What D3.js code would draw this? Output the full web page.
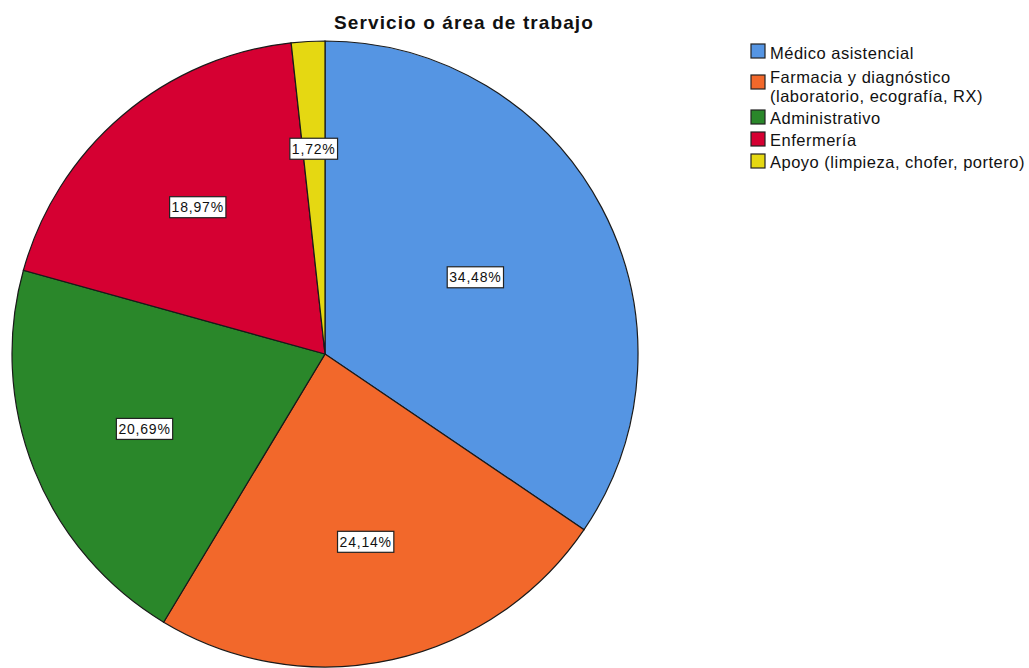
<!DOCTYPE html>
<html>
<head>
<meta charset="utf-8">
<script src="https://cdn.jsdelivr.net/npm/d3@7"></script>
<style>
  body { margin: 0; background: #fff; }
  text { font-family: "Liberation Sans", Arial, sans-serif; }
</style>
</head>
<body>
<div id="chart"></div>
<script>
const categories = [
  "Médico asistencial",
  "Farmacia y diagnóstico\n(laboratorio, ecografía, RX)",
  "Administrativo",
  "Enfermería",
  "Apoyo (limpieza, chofer, portero)"
];
const counts = [20, 14, 12, 11, 1];
const colors = ["#5595e3", "#f2682b", "#2a872a", "#d50032", "#e5d812"];
const title = "Servicio o área de trabajo";

const width = 1029, height = 668;
const cx = 325, cy = 354, radius = 313;

const svg = d3
  .select("#chart")
  .append("svg")
  .attr("width", width)
  .attr("height", height);

svg
  .append("text")
  .attr("x", 464)
  .attr("y", 29)
  .attr("text-anchor", "middle")
  .style("font-size", "19px")
  .style("font-weight", "bold")
  .style("letter-spacing", "1.1px")
  .style("fill", "#111")
  .text(title);

const total = d3.sum(counts);
const pie = d3.pie().sort(null).value((d) => d)(counts);
const arc = d3.arc().innerRadius(0).outerRadius(radius);

const g = svg.append("g").attr("transform", `translate(${cx}, ${cy})`);

g.selectAll("path")
  .data(pie)
  .join("path")
  .attr("d", arc)
  .attr("fill", (d, i) => colors[i])
  .attr("stroke", "#1a1a1a")
  .attr("stroke-width", 1.2);

// labels at the area centroid of each sector
const fmt = (v) => d3.format(".2f")(v).replace(".", ",") + "%";
const labels = g
  .selectAll("g.lbl")
  .data(pie)
  .join("g")
  .attr("class", "lbl")
  .attr("transform", (d) => {
    const a = d.endAngle - d.startAngle;
    const m = (d.startAngle + d.endAngle) / 2;
    const dist = (4 * radius * Math.sin(a / 2)) / (3 * a);
    return `translate(${dist * Math.sin(m)}, ${-dist * Math.cos(m) + 3})`;
  });

labels.each(function (d) {
  const sel = d3.select(this);
  const t = sel
    .append("text")
    .attr("text-anchor", "middle")
    .attr("dy", "0.36em")
    .style("font-size", "14px")
    .style("letter-spacing", "0.8px")
    .style("fill", "#111")
    .text(fmt((d.data / total) * 100));
  const bb = t.node().getBBox();
  sel
    .insert("rect", "text")
    .attr("x", bb.x - 2)
    .attr("y", -10.5)
    .attr("width", bb.width + 4)
    .attr("height", 21)
    .attr("fill", "#fff")
    .attr("stroke", "#222")
    .attr("stroke-width", 1.2);
});

// legend
const legend = svg.append("g").attr("transform", "translate(751, 0)");
const baseY = [59, 83, 124, 146, 168];
const swatchY = [44, 75, 110, 132, 154];
categories.forEach((c, i) => {
  legend
    .append("rect")
    .attr("y", swatchY[i])
    .attr("width", 14)
    .attr("height", 14)
    .attr("fill", colors[i])
    .attr("stroke", "#222")
    .attr("stroke-width", 1.2);
  const t = legend
    .append("text")
    .attr("y", baseY[i])
    .style("font-size", "16.5px")
    .style("letter-spacing", "0.5px")
    .style("fill", "#111");
  c.split("\n").forEach((l, j) => {
    t.append("tspan").attr("x", 19).attr("dy", j === 0 ? 0 : 19).text(l);
  });
});
</script>
</body>
</html>
